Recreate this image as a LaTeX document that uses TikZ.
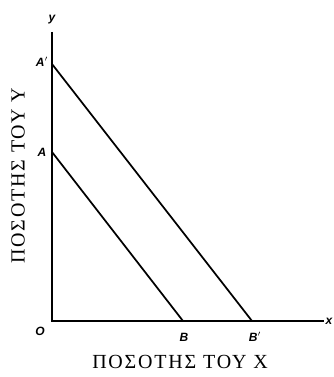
\documentclass[tikz,border=0pt]{standalone}
\usepackage{fontspec}
\setmainfont{Liberation Serif}
\setsansfont{Liberation Sans}
\newfontfamily\titlefont[LetterSpace=9]{Liberation Serif}
\begin{document}
\begin{tikzpicture}[x=0.75pt,y=-0.75pt,
	lbl/.style={font=\sffamily\itshape\bfseries\small},
	axtitle/.style={font=\titlefont\fontsize{15}{18}\selectfont},
	ln/.style={line width=1.3pt}]
	\useasboundingbox (0,0) rectangle (333,377);
	% axes
	\coordinate (O) at (52,321);
	\coordinate (ytop) at (52,32);
	\coordinate (xend) at (324,321);
	\draw[ln] (ytop) -- (O) -- (xend);
	\node[lbl] (ylab) at (52,20) {y};
	\node[lbl] (xlab) at (329,321) {x};
	\node[lbl] (olab) at (40,331) {O};
	
	% budget lines
	\coordinate (A) at (52,152);
	\coordinate (B) at (183,321);
	\coordinate (A2) at (52,64);
	\coordinate (B2) at (252,321);
	\draw[ln] (A) -- (B);
	\draw[ln] (A2) -- (B2);
	\node[lbl] (alab) at (42,152) {A};
	\node[lbl] (a2lab) at (42,62) {A$'$};
	\node[lbl] (blab) at (184,337) {B};
	\node[lbl] (b2lab) at (255,337) {B$'$};
	
	\node[axtitle] (xtitle) at (180,362) {ΠΟΣΟΤΗΣ ΤΟΥ X};
	\node[axtitle,rotate=90] (ytitle) at (18,176) {ΠΟΣΟΤΗΣ ΤΟΥ Y};
\end{tikzpicture}
\end{document}
